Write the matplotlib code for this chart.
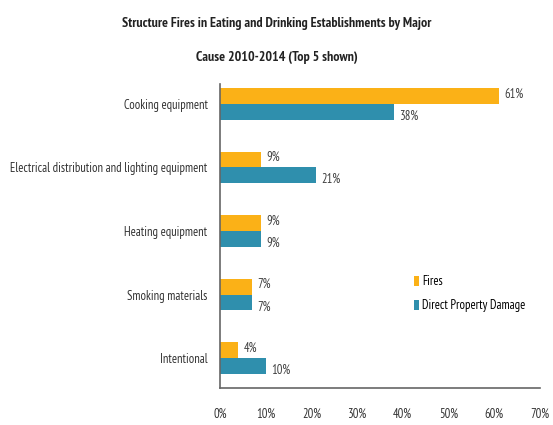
import matplotlib.pyplot as plt
import numpy as np

plt.rcParams['font.family'] = ['PT Sans Narrow', 'DejaVu Sans']

causes = ['Cooking equipment', 'Electrical distribution and lighting equipment',
          'Heating equipment', 'Smoking materials', 'Intentional']
fires = [61, 9, 9, 7, 4]
damage = [38, 21, 9, 7, 10]

orange = '#FBB117'
teal = '#2F8FAD'

fig = plt.figure(figsize=(5.53, 4.25), dpi=100)
ax = fig.add_axes([0.398, 0.087, 0.578, 0.715])

y = np.arange(len(causes))
h = 0.25
ax.barh(y - h / 2, fires, height=h, color=orange, label='Fires')
ax.barh(y + h / 2, damage, height=h, color=teal, label='Direct Property Damage')

for yi, v in zip(y, fires):
    ax.text(v + 1.2, yi - h / 2 - 0.03, f'{v}%', va='center', ha='left', fontsize=9, color='#404040')
for yi, v in zip(y, damage):
    ax.text(v + 1.2, yi + h / 2 + 0.07, f'{v}%', va='center', ha='left', fontsize=9, color='#404040')

ax.set_yticks(y)
ax.set_yticklabels(causes, fontsize=9, color='#333333')
ax.set_ylim(4.47, -0.31)
ax.set_xlim(0, 70)
ax.set_xticks(range(0, 71, 10))
ax.set_xticklabels([f'{t}%' for t in range(0, 71, 10)], fontsize=9, color='#333333')
ax.tick_params(length=0)
ax.tick_params(axis='x', pad=14)
ax.tick_params(axis='y', pad=9)

for s in ['top', 'right']:
    ax.spines[s].set_visible(False)
for s in ['left', 'bottom']:
    ax.spines[s].set_color('#666666')
    ax.spines[s].set_linewidth(1.2)

ax.legend(loc='center left', bbox_to_anchor=(0.57, 0.31), frameon=False, fontsize=9,
          handlelength=0.4, handleheight=0.9, handletextpad=0.3, labelspacing=0.9)

fig.text(0.5, 0.945, 'Structure Fires in Eating and Drinking Establishments by Major',
         ha='center', va='center', fontsize=10, fontweight='bold', color='#222222')
fig.text(0.5, 0.865, 'Cause 2010-2014 (Top 5 shown)',
         ha='center', va='center', fontsize=10, fontweight='bold', color='#222222')

fig.savefig('out.png', dpi=100)
